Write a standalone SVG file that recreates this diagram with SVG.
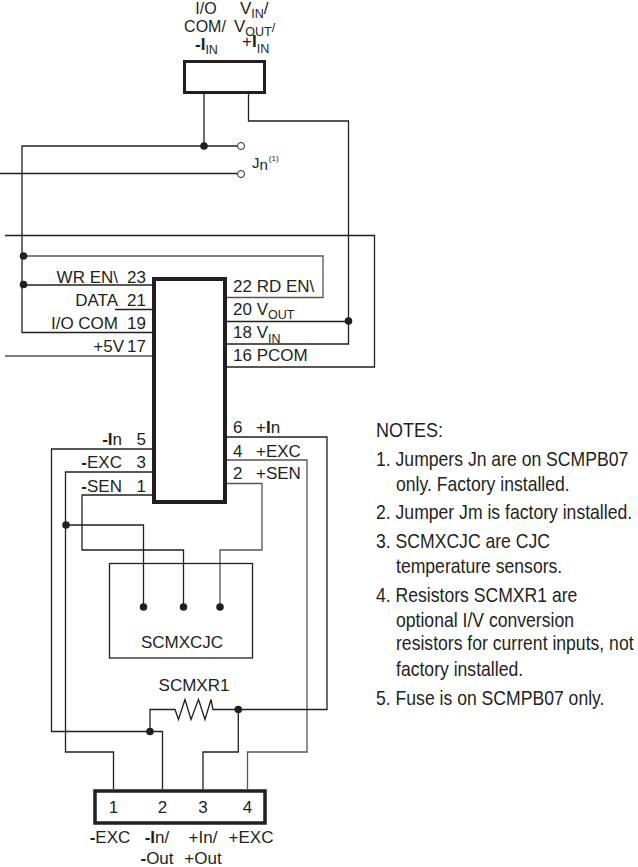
<svg xmlns="http://www.w3.org/2000/svg" width="638" height="867" viewBox="0 0 638 867">
<style>
text{font-family:"Liberation Sans",Arial,sans-serif;font-size:17px;fill:#231f20}
.e{text-anchor:end}.m{text-anchor:middle}
.b{font-weight:bold}
.s{font-size:12.500px}
.t{font-size:16px}
.n{font-size:20px}
.w{fill:none;stroke:#231f20;stroke-width:1.300}
.g{stroke:#555}
.box{fill:#fff;stroke:#231f20}
.d{fill:#231f20}
.o{fill:#fff;stroke:#231f20;stroke-width:1}
</style>
<rect width="638" height="867" fill="#fff"/>
<g id="connectors">
<path class="w" d="M204 93V146"/>
<path class="w" d="M248.500 93V121H348.500V344H227"/>
<path class="w" d="M238 146H22V332.500H152"/>
<path class="w" d="M0 173.500H237"/>
<path class="w" d="M5 235.500H374.500V367H227"/>
<path class="w g" d="M23.500 256H323V297.500H227"/>
<path class="w" d="M23.500 285H152"/>
<path class="w" d="M115 309.500H152"/>
<path class="w g" d="M5 356H152"/>
<path class="w" d="M227 321.500H348.500"/>
<path class="w" d="M152 449H51.500V731.500H162.500V789"/>
<path class="w" d="M152 472H65.500V752H113.500V789"/>
<path class="w" d="M66 525H143.500V607"/>
<path class="w" d="M152 495H82V550H183.500V607"/>
<path class="w g" d="M227 483.500H262V550H220V607"/>
<path class="w g" d="M227 460H307V752H247.500V789"/>
<path class="w" d="M227 437H327V709.500H213L211 699.500L205 719.500L198.500 699.500L191 719.500L185 699.500L178.500 719.500L175 709.500H150V731.500"/>
<path class="w" d="M238.300 709.500V752H203V789"/>
</g>
<g id="junctions">
<circle class="d" cx="204" cy="146" r="3.800"/>
<circle class="d" cx="23.500" cy="256" r="3.800"/>
<circle class="d" cx="23.500" cy="284.500" r="3.800"/>
<circle class="d" cx="348.500" cy="321" r="3.800"/>
<circle class="d" cx="66" cy="525" r="3.800"/>
<circle class="d" cx="150" cy="731.500" r="3.800"/>
<circle class="d" cx="238.300" cy="709.500" r="3.800"/>
</g>
<g id="top-connector">
<rect class="box" x="184.500" y="61.500" width="80" height="31" stroke-width="3"/>
<text class="m t" x="206" y="14">I/O</text>
<text class="m t" x="205" y="32">COM/</text>
<text x="195" y="50" class="b">-I<tspan class="s" font-weight="normal" dy="4">IN</tspan></text>
<text x="240" y="14">V<tspan class="s" dy="4">IN</tspan><tspan dy="-4">/</tspan></text>
<text x="234" y="32">V<tspan class="s" dy="4">OUT</tspan><tspan class="s" dy="-4">/</tspan></text>
<text x="242" y="47">+<tspan class="b">I</tspan><tspan class="s" dy="6">IN</tspan></text>
</g>
<g id="jumper">
<circle class="o" cx="241" cy="146" r="3.500"/>
<circle class="o" cx="241" cy="174" r="3.500"/>
<text x="252" y="168" style="font-size:15px">J<tspan dy="2">n</tspan><tspan style="font-size:8px" dy="-9" dx="1">(1)</tspan></text>
</g>
<g id="chip">
<rect class="box" x="154" y="279" width="71" height="223" stroke-width="4"/>
<text class="e" x="118" y="283">WR EN\</text><text class="e" x="146" y="283">23</text>
<text class="e" x="118" y="306">DATA</text><text class="e" x="146" y="306">21</text>
<text class="e" x="118" y="329">I/O COM</text><text class="e" x="146" y="329">19</text>
<text class="e" x="124" y="352">+5V</text><text class="e" x="146" y="352">17</text>
<text x="233" y="292">22 RD EN\</text>
<text x="233" y="315">20 V<tspan class="s" dy="4">OUT</tspan></text>
<text x="233" y="338">18 V<tspan class="s" dy="5">IN</tspan></text>
<text x="233" y="361">16 PCOM</text>
<text x="233" y="433">6</text><text x="256" y="433">+<tspan class="b">I</tspan>n</text>
<text x="233" y="457">4</text><text x="256" y="457">+EXC</text>
<text x="233" y="479">2</text><text x="256" y="479">+SEN</text>
<text class="e" x="122" y="445"><tspan class="b">-I</tspan>n</text><text class="e" x="146" y="445">5</text>
<text class="e" x="122" y="468"><tspan class="b">-</tspan>EXC</text><text class="e" x="146" y="468">3</text>
<text class="e" x="122" y="492"><tspan class="b">-</tspan>SEN</text><text class="e" x="146" y="492">1</text>
</g>
<g id="scmxcjc">
<rect x="109.500" y="563.500" width="143" height="94.500" fill="none" stroke="#231f20" stroke-width="1.300"/>
<circle class="d" cx="143.500" cy="607" r="3.800"/>
<circle class="d" cx="183.500" cy="607" r="3.800"/>
<circle class="d" cx="220" cy="607" r="3.800"/>
<text class="m" x="182" y="648">SCMXCJC</text>
</g>
<g id="scmxr1">
<text class="m" x="194" y="691">SCMXR1</text>
</g>
<g id="terminal">
<rect class="box" x="95" y="791" width="170" height="32" stroke-width="3.500"/>
<text class="m" x="113.500" y="813">1</text>
<text class="m" x="162.500" y="813">2</text>
<text class="m" x="203" y="813">3</text>
<text class="m" x="247.500" y="813">4</text>
<text class="m" x="110" y="843"><tspan class="b">-</tspan>EXC</text>
<text class="m" x="157" y="843"><tspan class="b">-I</tspan>n/</text>
<text class="m" x="203" y="843">+In/</text>
<text class="m" x="251" y="843">+EXC</text>
<text class="m" x="157" y="864"><tspan class="b">-</tspan>Out</text>
<text class="m" x="203" y="864">+Out</text>
</g>
<g id="notes">
<text class="n" transform="translate(376 437) scale(.9 1)">NOTES:</text>
<text class="n" transform="translate(376 466) scale(.88 1)">1. Jumpers Jn are on SCMPB07</text>
<text class="n" transform="translate(396 491) scale(.88 1)">only. Factory installed.</text>
<text class="n" transform="translate(376 519) scale(.88 1)">2. Jumper Jm is factory installed.</text>
<text class="n" transform="translate(376 548) scale(.88 1)">3. SCMXCJC are CJC</text>
<text class="n" transform="translate(396 573) scale(.88 1)">temperature sensors.</text>
<text class="n" transform="translate(376 602) scale(.88 1)">4. Resistors SCMXR1 are</text>
<text class="n" transform="translate(396 627) scale(.88 1)">optional I/V conversion</text>
<text class="n" transform="translate(396 650) scale(.88 1)">resistors for current inputs, not</text>
<text class="n" transform="translate(396 676) scale(.88 1)">factory installed.</text>
<text class="n" transform="translate(376 705) scale(.88 1)">5. Fuse is on SCMPB07 only.</text>
</g>
</svg>
